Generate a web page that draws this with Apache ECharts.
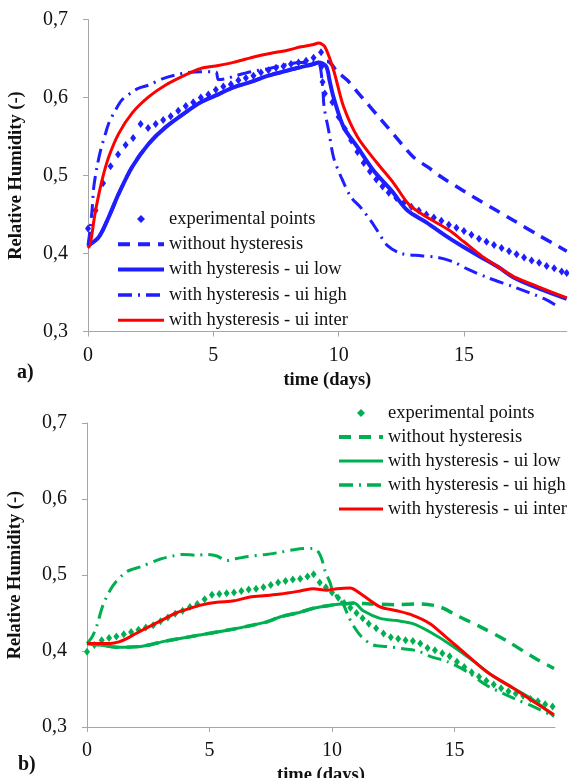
<!DOCTYPE html>
<html>
<head>
    <meta charset="utf-8">
    <title>Relative humidity</title>
    <script src="https://cdn.jsdelivr.net/npm/echarts@6/dist/echarts.min.js"></script>
    <style>
        body { margin: 0; background: #fff; }
        #a { position: absolute; left: 0; top: 0; width: 569px; height: 390px; }
        #b { position: absolute; left: 0; top: 390px; width: 569px; height: 388px; }
    </style>
</head>
<body>
    <div id="a"></div>
    <div id="b"></div>
    <script type="text/javascript">
        // ---- data: (a) blue set ----
        var aExpT = [0,0.3,0.6,0.9,1.2,1.5,1.8,2.1,2.4,2.7,3.0,3.3,3.6,3.9,4.2,4.5,4.8,5.1,5.4,5.7,6.0,6.3,6.6,6.9,7.2,7.5,7.8,8.1,8.4,8.7,9.0,
            9.3,9.33,9.36,9.45,9.75,10.0,10.25,10.5,10.75,11.0,11.25,11.5,11.75,12.0,
            12.3,12.6,12.9,13.2,13.5,13.8,14.1,14.4,14.7,15.0,15.3,15.6,15.9,16.2,16.5,16.8,17.1,17.4,17.7,18.0,18.3,18.6,18.9,19.1];
        var aExpRH = [0.432,0.455,0.49,0.512,0.527,0.539,0.548,0.566,0.561,0.566,0.571,0.576,0.583,0.589,0.594,0.6,0.604,0.61,0.614,0.617,0.622,0.625,0.628,0.632,0.635,0.638,0.64,0.643,0.645,0.647,0.651,
            0.658,0.64,0.62,0.605,0.594,0.575,0.56,0.545,0.53,0.516,0.505,0.495,0.486,0.478,
            0.471,0.465,0.46,0.455,0.45,0.446,0.442,0.437,0.433,0.429,0.424,0.419,0.415,0.411,0.407,0.403,0.399,0.395,0.391,0.388,0.384,0.381,0.377,0.375];

        var aNoHystT = [0,0.43,0.83,1.23,1.76,2.43,3.1,4.03,4.5,5.2,5.8,6.5,7.2,8.0,8.5,9.0,9.2,9.55,9.95,10.35,10.75,11.15,11.55,11.95,12.5,13.0,13.55,14.1,14.75,15.4,16.2,17.0,18.0,19.1];
        var aNoHystRH = [0.41,0.421,0.447,0.477,0.511,0.541,0.562,0.584,0.594,0.604,0.613,0.62,0.628,0.635,0.639,0.643,0.645,0.646,0.633,0.622,0.607,0.592,0.577,0.562,0.541,0.523,0.511,0.498,0.485,0.472,0.457,0.442,0.423,0.403];

        var aLowT = [0,0.43,0.83,1.23,1.76,2.43,3.1,4.03,4.5,5.2,5.8,6.5,7.2,8.0,8.5,9.0,9.2,9.5,9.65,9.8,10.2,10.76,11.4,12.1,12.75,13.5,14.4,15.0,15.7,16.4,17.0,18.0,19.1];
        var aLowRH = [0.41,0.421,0.447,0.477,0.511,0.541,0.562,0.584,0.594,0.604,0.613,0.62,0.628,0.635,0.639,0.643,0.645,0.64,0.62,0.6,0.562,0.536,0.506,0.481,0.455,0.44,0.42,0.408,0.395,0.382,0.369,0.355,0.342];

        var aHighT = [0,0.08,0.16,0.23,0.36,0.5,0.7,0.83,1.1,1.36,1.76,2.03,2.43,2.96,3.5,4.0,4.5,5.1,5.2,5.5,5.8,6.5,7.2,8.5,9.16,9.35,9.42,9.6,9.8,10.1,10.5,10.88,11.28,11.55,11.95,12.5,13.3,13.95,14.6,15.15,15.95,17.0,18.2,18.75];
        var aHighRH = [0.41,0.43,0.455,0.485,0.511,0.532,0.554,0.567,0.584,0.597,0.607,0.612,0.616,0.624,0.629,0.632,0.633,0.633,0.623,0.624,0.627,0.633,0.637,0.645,0.645,0.618,0.588,0.558,0.523,0.498,0.472,0.459,0.442,0.429,0.41,0.4,0.397,0.395,0.389,0.38,0.369,0.357,0.342,0.332];

        var aInterT = [0,0.03,0.3,0.56,0.83,1.23,1.76,2.43,3.1,4.03,4.48,5.2,5.8,6.5,7.2,8.0,8.5,9.0,9.2,9.45,9.8,10.2,10.76,11.56,12.2,12.8,13.5,14.4,15.0,15.7,16.4,17.0,18.0,19.1];
        var aInterRH = [0.41,0.408,0.455,0.494,0.524,0.554,0.58,0.601,0.616,0.631,0.637,0.641,0.645,0.651,0.656,0.661,0.665,0.668,0.67,0.665,0.635,0.588,0.549,0.515,0.49,0.463,0.447,0.43,0.415,0.397,0.382,0.37,0.357,0.343];

        // ---- data: (b) green set ----
        var bExpT = [0,0.3,0.6,0.9,1.2,1.5,1.8,2.1,2.4,2.7,3.0,3.3,3.6,3.9,4.2,4.5,4.8,5.1,5.4,5.7,6.0,6.3,6.6,6.9,7.2,7.5,7.8,8.1,8.4,8.7,9.0,
            9.25,9.5,9.75,10.0,10.25,10.5,10.75,11.0,11.25,11.5,
            11.8,12.1,12.4,12.7,13.0,13.3,13.6,13.9,14.2,14.5,14.8,15.1,15.4,15.7,16.0,16.3,16.6,16.9,17.2,17.5,17.8,18.1,18.4,18.7,19.0];
        var bExpRH = [0.399,0.408,0.414,0.417,0.419,0.422,0.425,0.428,0.431,0.434,0.439,0.444,0.449,0.453,0.458,0.462,0.468,0.474,0.475,0.476,0.477,0.479,0.481,0.482,0.484,0.487,0.49,0.492,0.494,0.495,0.498,
            0.501,0.49,0.484,0.477,0.47,0.463,0.457,0.45,0.443,0.436,
            0.43,0.423,0.418,0.416,0.414,0.413,0.41,0.404,0.401,0.397,0.393,0.386,0.379,0.372,0.366,0.361,0.356,0.351,0.347,0.344,0.341,0.337,0.334,0.33,0.327];

        var bNoHystT = [0,0.5,1.2,2.2,3.2,4.6,6.0,7.3,7.9,8.7,9.2,9.9,10.5,10.9,11.55,12.64,13.6,14.4,15.2,16.04,17.1,18.2,19.06];
        var bNoHystRH = [0.41,0.408,0.405,0.406,0.413,0.421,0.429,0.438,0.445,0.451,0.456,0.46,0.462,0.463,0.462,0.461,0.462,0.458,0.445,0.432,0.414,0.392,0.377];

        var bLowT = [0,0.5,1.2,2.2,3.2,4.6,6.0,7.3,7.9,8.7,9.2,9.9,10.5,10.9,11.27,11.96,12.64,13.3,14.0,14.9,15.8,16.7,18.1,19.06];
        var bLowRH = [0.41,0.408,0.405,0.406,0.413,0.421,0.429,0.438,0.445,0.451,0.456,0.46,0.462,0.463,0.453,0.443,0.44,0.436,0.425,0.407,0.386,0.364,0.338,0.314];

        var bHighT = [0,0.2,0.4,0.65,1.06,1.6,2.2,3.0,3.5,3.9,4.5,4.9,5.3,5.7,6.0,6.5,7.3,7.9,8.56,9.24,9.45,9.58,9.71,9.92,10.04,10.45,10.65,10.86,11.2,11.67,12.23,12.9,13.5,14.0,14.7,15.5,16.3,17.4,18.2,19.06];
        var bHighRH = [0.41,0.418,0.433,0.46,0.486,0.504,0.511,0.521,0.525,0.527,0.526,0.527,0.525,0.519,0.521,0.524,0.527,0.53,0.534,0.535,0.53,0.521,0.506,0.49,0.478,0.462,0.447,0.434,0.419,0.408,0.406,0.403,0.4,0.393,0.386,0.373,0.355,0.338,0.327,0.314];

        var bInterT = [0,0.5,0.95,1.3,1.6,2.0,2.6,3.2,3.7,4.2,4.6,5.3,6.0,6.65,7.3,7.9,8.7,9.24,9.78,10.2,10.73,11.27,11.96,12.64,13.3,14.0,14.7,15.5,16.3,17.4,18.2,19.06];
        var bInterRH = [0.41,0.41,0.41,0.412,0.416,0.423,0.433,0.443,0.451,0.456,0.46,0.464,0.466,0.471,0.473,0.475,0.479,0.482,0.48,0.482,0.483,0.473,0.458,0.453,0.447,0.436,0.417,0.395,0.373,0.351,0.334,0.316];

        var names = ['experimental points', 'without hysteresis', 'with hysteresis - ui low', 'with hysteresis - ui high', 'with hysteresis - ui inter'];
        var xTicks = [0, 5, 10, 15];

        function pairs(t, v) {
            return t.map(function (x, i) { return [x, v[i]]; });
        }

        var serif = '"Liberation Serif", "Times New Roman", serif';
        var hidden = { opacity: 0, color: 'rgba(0,0,0,0)' };

        function makeOption(cfg) {
            return {
                animation: false,
                textStyle: { fontFamily: serif },
                grid: { left: cfg.grid[0], top: cfg.grid[1], width: cfg.grid[2], height: cfg.grid[3], outerBoundsMode: 'none' },
                legend: {
                    orient: 'vertical',
                    left: cfg.legend[0],
                    top: cfg.legend[1],
                    itemWidth: cfg.legend[2],
                    itemHeight: 10,
                    itemGap: cfg.legend[3],
                    selectedMode: false,
                    textStyle: { fontFamily: serif, fontSize: 18.5, color: '#111', lineHeight: 20 },
                    data: [
                        { name: names[0], lineStyle: { opacity: 0, width: 0 } },
                        { name: names[1], itemStyle: hidden, lineStyle: { width: 4 } },
                        { name: names[2], itemStyle: hidden, lineStyle: { width: cfg.lowWidth } },
                        { name: names[3], itemStyle: hidden, lineStyle: { width: 3.5 } },
                        { name: names[4], itemStyle: hidden, lineStyle: { width: 3 } }
                    ]
                },
                xAxis: {
                    type: 'value',
                    min: 0,
                    max: 19.1,
                    interval: 5,
                    name: 'time (days)',
                    nameLocation: 'middle',
                    nameGap: cfg.xNameGap,
                    nameTextStyle: { fontFamily: serif, fontSize: 18.5, fontWeight: 'bold', color: '#111' },
                    axisLine: { lineStyle: { color: '#a6a6a6', width: 1 } },
                    axisTick: { show: true, length: 5, lineStyle: { color: '#a6a6a6' }, customValues: xTicks },
                    axisLabel: {
                        fontFamily: serif, fontSize: 20, color: '#111', margin: 14,
                        customValues: xTicks,
                        formatter: function (v) { return v % 5 === 0 ? String(v) : ''; }
                    },
                    splitLine: { show: false }
                },
                yAxis: {
                    type: 'value',
                    min: 0.3,
                    max: 0.7,
                    interval: 0.1,
                    name: 'Relative Humidity (-)',
                    nameLocation: 'middle',
                    nameGap: 62,
                    nameTextStyle: { fontFamily: serif, fontSize: 18.5, fontWeight: 'bold', color: '#111' },
                    axisLine: { show: true, lineStyle: { color: '#a6a6a6', width: 1 } },
                    axisTick: { show: true, length: 5, lineStyle: { color: '#a6a6a6' } },
                    axisLabel: {
                        fontFamily: serif, fontSize: 20, color: '#111', margin: 20,
                        formatter: function (v) { return v.toFixed(1).replace('.', ','); }
                    },
                    splitLine: { show: false }
                },
                graphic: [{
                    type: 'text',
                    left: cfg.tag[1],
                    top: cfg.tag[2],
                    style: { text: cfg.tag[0], font: 'bold 20px ' + serif, fill: '#111' }
                }],
                series: [
                    {
                        name: names[1], type: 'line', data: pairs(cfg.noHyst[0], cfg.noHyst[1]),
                        symbol: 'none', smooth: 0.3, z: 2,
                        lineStyle: { color: cfg.color, width: 3.5, type: [12, 8] },
                        itemStyle: { color: cfg.color }
                    },
                    {
                        name: names[2], type: 'line', data: pairs(cfg.low[0], cfg.low[1]),
                        symbol: 'none', smooth: 0.3, z: 3,
                        lineStyle: { color: cfg.color, width: cfg.lowWidth },
                        itemStyle: { color: cfg.color }
                    },
                    {
                        name: names[3], type: 'line', data: pairs(cfg.high[0], cfg.high[1]),
                        symbol: 'none', smooth: 0.3, z: 3,
                        lineStyle: { color: cfg.color, width: 3, type: [14, 6, 2, 6] },
                        itemStyle: { color: cfg.color }
                    },
                    {
                        // points only: invisible connecting line
                        name: names[0], type: 'line', data: pairs(cfg.exp[0], cfg.exp[1]),
                        symbol: 'diamond', symbolSize: [6, 8], showSymbol: true, showAllSymbol: true, z: 4,
                        lineStyle: { opacity: 0, width: 0 },
                        itemStyle: { color: cfg.color, opacity: 1 }
                    },
                    {
                        name: names[4], type: 'line', data: pairs(cfg.inter[0], cfg.inter[1]),
                        symbol: 'none', smooth: 0.3, z: 5,
                        lineStyle: { color: '#ff0000', width: 3 },
                        itemStyle: { color: '#ff0000' }
                    }
                ]
            };
        }

        var chartA = echarts.init(document.getElementById('a'));
        chartA.setOption(makeOption({
            color: '#1e1eff',
            lowWidth: 4,
            grid: [88, 19.5, 478.7, 312],
            legend: [111, 204, 46, 5.3],
            xNameGap: 34,
            tag: ['a)', 17, 363],
            exp: [aExpT, aExpRH],
            noHyst: [aNoHystT, aNoHystRH],
            low: [aLowT, aLowRH],
            high: [aHighT, aHighRH],
            inter: [aInterT, aInterRH]
        }));

        var chartB = echarts.init(document.getElementById('b'));
        chartB.setOption(makeOption({
            color: '#00b050',
            lowWidth: 3,
            grid: [87, 33, 468, 304],
            legend: [332, 8, 44, 4],
            xNameGap: 34,
            tag: ['b)', 18, 365],
            exp: [bExpT, bExpRH],
            noHyst: [bNoHystT, bNoHystRH],
            low: [bLowT, bLowRH],
            high: [bHighT, bHighRH],
            inter: [bInterT, bInterRH]
        }));

        window.addEventListener('resize', function () {
            chartA.resize();
            chartB.resize();
        });
    </script>
</body>
</html>
